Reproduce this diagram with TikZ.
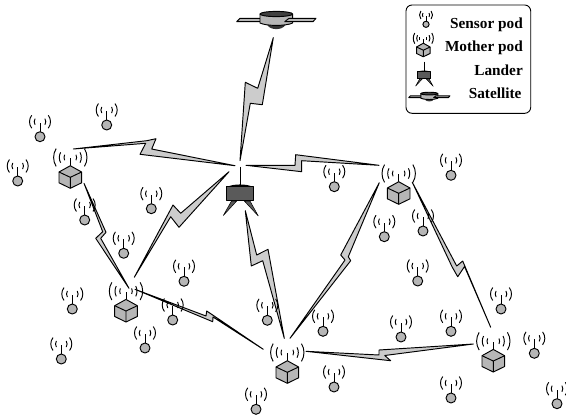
\documentclass[tikz,border=0pt]{standalone}
\usepackage{fontspec}
\setmainfont{Liberation Serif}
\definecolor{podgray}{HTML}{B6B6B6}
\definecolor{boltgray}{HTML}{CCCCCC}
\definecolor{landergray}{HTML}{5A5A5A}
\tikzset{
  boltshape/.style={draw=black,fill=boltgray,line width=0.95bp,line join=round},
  podline/.style={draw=black,line width=0.95bp,line join=round},
  legendtext/.style={anchor=base east,inner sep=0pt,font=\fontsize{15.3bp}{18bp}\selectfont\bfseries},
  sensorpod/.pic={
    \draw[podline] (0,-5) -- (0,-14);
    \draw[podline,fill=podgray] (0,0) circle[radius=5];
    \draw[podline] (0,-15) ++(38:10.5) arc[start angle=38,end angle=-38,radius=10.5];
    \draw[podline] (0,-15) ++(142:10.5) arc[start angle=142,end angle=218,radius=10.5];
    \draw[podline] (0,-15) ++(32:5.8) arc[start angle=32,end angle=-32,radius=5.8];
    \draw[podline] (0,-15) ++(148:5.8) arc[start angle=148,end angle=212,radius=5.8];
  },
  motherpod/.pic={
    \draw[podline] (0,-11.3) -- (0,-19);
    \draw[podline,fill=podgray] (0,-11.3) -- (11.3,-5) -- (11.3,5.8) -- (0,11.3) -- (-11.3,5.8) -- (-11.3,-5) -- cycle;
    \draw[podline] (-11.3,-5) -- (0,0.3) -- (11.3,-5) (0,0.3) -- (0,11.3);
    \foreach \r/\a in {16.7/32,11/28,6.3/26}{
      \draw[podline] (0,-19.5) ++(\a:\r) arc[start angle=\a,end angle=-\a,radius=\r];
      \draw[podline] (0,-19.5) ++(180-\a:\r) arc[start angle=180-\a,end angle=180+\a,radius=\r];
    }
  },
  landerpod/.pic={
    \draw[podline] (0,-19.3) -- (0,0);
    \fill[black] (-13,1) .. controls (-7,-2.4) and (7,-2.4) .. (13,1) -- cycle;
    \draw[podline,fill=landergray] (-13.2,0.6) -- (13.2,0.6) -- (13.2,14.5) -- (-13.2,14.5) -- cycle;
    \draw[fill=landergray,draw=black,line width=0.5bp,line join=round] (-8.5,15) -- (-3.3,15) -- (-16.7,29.5) -- cycle;
    \draw[fill=landergray,draw=black,line width=0.5bp,line join=round] (4.3,15) -- (10,15) -- (18.3,30) -- cycle;
  },
  satellitepod/.pic={
    \draw[podline,fill=podgray] (-39.6,1.7) -- (-36.3,-1.7) -- (-15,-1.7) -- (-15,1.7) -- cycle;
    \fill[black!80] (-9,5) .. controls (-6,10.5) and (6,10.5) .. (9,5) -- cycle;
    \draw[podline,fill=podgray] (-16.3,-6) -- (-16.3,3) .. controls (-10,6.2) and (10,6.2) .. (16.3,3) -- (16.3,-6) -- cycle;
    \draw[podline,fill=black!75] (0,-6) ellipse[x radius=16.3,y radius=2.6];
    \draw[podline,fill=podgray] (8.4,1.7) -- (12.7,-1.7) -- (39.7,-1.7) -- (36.7,1.7) -- cycle;
  }
}
\begin{document}
\begin{tikzpicture}[x=1bp,y=-1bp]
\useasboundingbox (0,0) rectangle (566,416);
% bolt tips
\coordinate (satTip) at (273.3,37.7);
\coordinate (hubN) at (240,160.7);
\coordinate (hubW) at (235,165.7);
\coordinate (hubE) at (246,165.3);
\coordinate (hubSW) at (229,171.7);
\coordinate (landS) at (245.3,210.7);
\coordinate (m1E) at (73.3,149);
\coordinate (m1S) at (84,183.3);
\coordinate (m2W) at (379,165.3);
\coordinate (m2SW) at (379.3,182.7);
\coordinate (m2SE) at (412.3,182.3);
\coordinate (m3N) at (129,288.3);
\coordinate (m3NE) at (134.3,277.3);
\coordinate (m3E) at (135,289.3);
\coordinate (m4W) at (263.3,349.3);
\coordinate (m4N) at (284.3,338.3);
\coordinate (m4NE) at (290,338.3);
\coordinate (m4E) at (306,351.3);
\coordinate (m5W) at (473.3,344);
\coordinate (m5N) at (490.7,327.3);
% bolts
\draw[boltshape] (satTip) -- (257.7,88.3) -- (245.3,82.3) -- (hubN) -- (250.3,103.3) -- (262.3,104.7) -- cycle;
\draw[boltshape] (m1E) -- (146.7,140.7) -- (156,138.7) -- (151.7,149) -- (hubW) -- (140,154.3) -- (145.7,143.3) -- cycle;
\draw[boltshape] (hubE) -- (295,165.3) -- (295.7,154.7) -- (m2W) -- (301.7,160.7) -- (301.7,171.7) -- cycle;
\draw[boltshape] (m1S) -- (106,232.3) -- (100.7,238.3) -- (m3N) -- (95.7,238.3) -- (102.7,231.7) -- cycle;
\draw[boltshape] (hubSW) -- (180.7,213.3) -- (173,205) -- (m3NE) -- (170.7,216.7) -- (179,227.3) -- cycle;
\draw[boltshape] (landS) -- (256.7,255) -- (268,249.3) -- (m4N) -- (262.7,260.7) -- (251.3,266) -- cycle;
\draw[boltshape] (m4NE) -- (345,260) -- (340.7,255) -- (m2SW) -- (348.3,256.7) -- (350.7,260.7) -- cycle;
\draw[boltshape] (m3E) -- (206,316) -- (206.7,311) -- (212.7,315) -- (m4W) -- (213,317) -- (212.7,321.7) -- cycle;
\draw[boltshape] (m4E) -- (379,355) -- (379,350) -- (m5W) -- (384.7,355.5) -- (390.7,360.7) -- cycle;
\draw[boltshape] (m2SE) -- (456.7,266) -- (462.7,261) -- (m5N) -- (464.5,266.5) -- (457.7,276.7) -- (452,266.7) -- cycle;
% sensor pods
\foreach \p [count=\i] in {(40,136.7),(106.7,125),(17.7,181),(84.7,220),(151.3,208.7),(123.7,253.3),(184,281.3),(72.3,309),(61.3,359),(172.7,320),(145,348),(267.3,320.3),(323,331.3),(334,387),(256,409.3),(334.3,186.7),(451,175.3),(384.3,236.7),(423,231),(417.7,281),(501,309),(451,331.3),(401,337),(534.3,353.3),(451,398),(557,403.7)}
  \pic (sensor\i) at \p {sensorpod};
% mother pods
\pic (mother1) at (70.3,177) {motherpod};
\pic (mother2) at (398.7,193) {motherpod};
\pic (mother3) at (126,310.7) {motherpod};
\pic (mother4) at (287.3,372) {motherpod};
\pic (mother5) at (493.3,360.7) {motherpod};
% lander and satellite
\pic (lander) at (240,186) {landerpod};
\pic (satellite) at (276.3,20) {satellitepod};
% legend
\draw[line width=0.9bp,rounded corners=6bp] (406,5) rectangle (530.7,113.3);
\pic[scale=0.62] (legsensor) at (426,24.3) {sensorpod};
\pic[scale=0.6] (legmother) at (423.3,50) {motherpod};
\pic[scale=0.5] (leglander) at (424,71.3) {landerpod};
\pic[scale=0.52] (legsatellite) at (429.3,96.7) {satellitepod};
\node[legendtext] (lab1) at (523,28.3) {Sensor pod};
\node[legendtext] (lab2) at (523,51) {Mother pod};
\node[legendtext] (lab3) at (523,75) {Lander};
\node[legendtext] (lab4) at (521.7,98.3) {Satellite};
\end{tikzpicture}
\end{document}
